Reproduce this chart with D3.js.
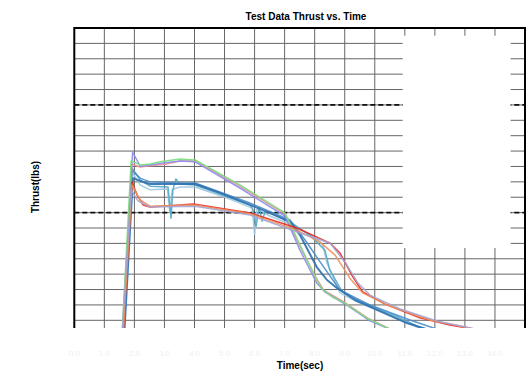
<!DOCTYPE html>
<html>
<head>
<meta charset="utf-8">
<script src="https://cdn.jsdelivr.net/npm/d3@7"></script>
<style>
  body { margin: 0; background: #fff; }
  text { font-family: Arial, "Liberation Sans", sans-serif; }
</style>
</head>
<body>
<script>
// time (sec) on x, thrust (lbs) on y
var timeTicks = d3.range(0, 16, 1);
var thrustTicks = d3.range(50, 1001, 50);
var limitLines = [750, 400];

// each run is [time, thrust]
var runPurple = [[1.59,0],[1.94,597],[2.19,551],[2.52,555],[3.02,562],[3.52,568],[4.02,565],[5.51,480],[7.01,389],[7.51,278],[8.07,171],[8.34,142],[9.01,103],[9.84,48],[10.57,18],[11.2,0]];
var runPink = [[1.62,0],[1.92,558],[2.19,548],[2.52,552],[3.02,557],[3.52,568],[4.02,568],[5.51,486],[7.01,396],[7.41,311],[8.01,194],[8.3,148],[9.0,108],[9.8,55],[10.5,22],[11.2,0]];
var runGreen = [[1.59,0],[1.89,568],[2.19,555],[2.52,558],[2.85,565],[3.52,574],[4.02,571],[5.51,490],[7.01,399],[7.25,350],[7.51,295],[8.07,181],[8.24,152],[8.6,125],[8.94,110],[9.74,57],[10.41,25],[11.1,0]];
var runDarkBlue = [[1.66,0],[1.95,512],[2.19,503],[2.52,493],[3.18,493],[4.02,493],[4.85,464],[5.85,425],[6.51,399],[7.18,370],[7.51,327],[8.07,223],[8.41,181],[8.74,155],[9.34,116],[9.94,90],[11.07,41],[11.6,25],[12.3,5]];
var runMidBlue = [[1.64,0],[1.92,538],[2.19,512],[2.52,500],[3.3,497],[4.02,496],[5.85,431],[7.18,376],[7.68,311],[8.18,240],[8.84,148],[9.84,100],[11.17,51],[12.17,18],[12.8,5]];
var runLightBlue = [[1.62,0],[1.92,532],[2.19,490],[2.52,474],[3.02,477],[3.1,476],[3.18,400],[3.26,475],[3.52,483],[4.02,483],[5.18,444],[5.92,415],[6.0,330],[6.08,412],[6.51,389],[7.18,363],[7.68,337],[8.11,311],[8.27,295],[8.41,236],[8.84,139],[9.41,110],[10.5,67],[11.4,28],[12.2,8]];
var runTeal = [[1.62,0],[1.92,545],[2.19,506],[2.52,486],[3.12,483],[3.22,382],[3.28,473],[3.38,509],[3.52,493],[4.02,490],[5.85,425],[5.95,410],[6.05,355],[6.15,418],[6.25,372],[6.35,404],[7.18,370],[7.85,326],[8.34,278],[8.5,215],[8.9,146],[9.5,112],[10.7,64],[11.5,27],[12.3,6]];
var runGrayPurple = [[1.59,0],[1.89,474],[2.12,438],[2.52,418],[3.5,420],[4.02,421],[5.85,392],[7.51,334],[8.51,301],[9.01,239],[9.44,171],[9.84,132],[10.84,87],[12.17,45],[13.17,25],[13.9,10]];
var runOrange = [[1.62,0],[1.92,490],[2.19,441],[2.52,421],[3.5,424],[4.02,425],[5.85,396],[7.41,343],[8.18,304],[8.68,262],[9.17,187],[9.6,139],[10.4,100],[11.84,51],[13.17,25],[13.8,12]];
var runRed = [[1.62,0],[1.92,500],[2.09,457],[2.29,425],[2.52,418],[3.18,422],[3.96,428],[4.18,425],[5.85,399],[7.41,350],[8.51,301],[8.84,269],[9.27,191],[9.6,142],[10.4,100],[11.5,58],[12.5,35],[13.07,25],[13.5,15]];

var runs = [runLightBlue, runTeal, runMidBlue, runDarkBlue, runPink, runPurple, runGreen, runRed, runOrange, runGrayPurple];
var runColors = ["#9cc8e0", "#52a8c8", "#4a8cc8", "#2e6fae", "#f09090", "#8c8cf0", "#7ddc7d", "#e8281e", "#f0905a", "#a4a4d4"];

var w = 529, h = 372;
var pLeft = 74.3, pRight = 525, pTop = 28, pBottom = 328;

var svg = d3.select("body").append("svg")
  .attr("width", w)
  .attr("height", h);

var x = d3.scaleLinear().domain([0, 15]).range([pLeft, pRight]);
var y = d3.scaleLinear().domain([25, 1000]).range([pBottom, pTop]);

svg.append("clipPath").attr("id", "plot")
  .append("rect")
  .attr("x", pLeft).attr("y", pTop)
  .attr("width", pRight - pLeft).attr("height", pBottom - pTop);

// grid
var grid = svg.append("g").attr("stroke", "#666").attr("stroke-width", 1);
grid.selectAll(".vx")
  .data(timeTicks.slice(1, -1))
  .enter().append("line")
  .attr("x1", function(d) { return x(d); })
  .attr("x2", function(d) { return x(d); })
  .attr("y1", pTop).attr("y2", pBottom);
grid.selectAll(".hy")
  .data(thrustTicks.slice(0, -1))
  .enter().append("line")
  .attr("x1", pLeft).attr("x2", pRight)
  .attr("y1", function(d) { return y(d); })
  .attr("y2", function(d) { return y(d); });

// spec limits
svg.append("g").selectAll("line")
  .data(limitLines)
  .enter().append("line")
  .attr("x1", pLeft).attr("x2", pRight)
  .attr("y1", function(d) { return y(d); })
  .attr("y2", function(d) { return y(d); })
  .attr("stroke", "#111")
  .attr("stroke-width", 1.6)
  .attr("stroke-dasharray", "5,3");

// blank legend box
svg.append("rect")
  .attr("x", x(10.93)).attr("y", y(975))
  .attr("width", x(14.52) - x(10.93))
  .attr("height", y(285) - y(975))
  .attr("fill", "#fff");

var line = d3.line()
  .x(function(d) { return x(d[0]); })
  .y(function(d) { return y(d[1]); });

svg.append("g").attr("clip-path", "url(#plot)")
  .selectAll("path")
  .data(runs)
  .enter().append("path")
  .attr("d", line)
  .attr("fill", "none")
  .attr("stroke", function(d, i) { return runColors[i]; })
  .attr("stroke-width", function(d, i) { return runColors[i] == "#2e6fae" ? 2 : 1.5; })
  .attr("stroke-opacity", 0.9)
  .attr("stroke-linejoin", "round");

// frame: left, top, right
svg.append("path")
  .attr("d", "M" + pLeft + "," + pBottom + "V" + pTop + "H" + pRight + "V" + pBottom)
  .attr("fill", "none")
  .attr("stroke", "#000")
  .attr("stroke-width", 2);

// washed out tick labels
svg.append("g").selectAll("text")
  .data(timeTicks.slice(0, -1))
  .enter().append("text")
  .attr("x", function(d) { return x(d); })
  .attr("y", 356)
  .attr("text-anchor", "middle")
  .attr("font-size", 8)
  .attr("fill", "#f0f0f0")
  .text(function(d) { return d.toFixed(1); });

svg.append("text")
  .attr("x", 306).attr("y", 20)
  .attr("text-anchor", "middle")
  .attr("font-size", 10).attr("font-weight", "bold")
  .text("Test Data Thrust vs. Time");

svg.append("text")
  .attr("x", 300).attr("y", 369)
  .attr("text-anchor", "middle")
  .attr("font-size", 10).attr("font-weight", "bold")
  .text("Time(sec)");

svg.append("text")
  .attr("transform", "translate(39,187) rotate(-90)")
  .attr("text-anchor", "middle")
  .attr("font-size", 10).attr("font-weight", "bold")
  .text("Thrust(lbs)");
</script>
</body>
</html>
